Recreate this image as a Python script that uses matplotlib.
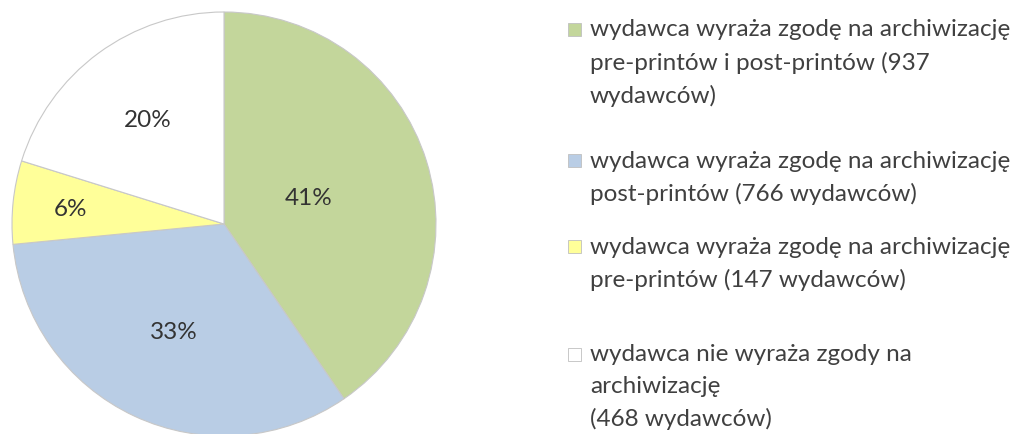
import matplotlib
matplotlib.use("Agg")
import matplotlib.pyplot as plt
from matplotlib.patches import Rectangle
import numpy as np

# data
counts = [937, 766, 147, 468]
pct_labels = ["41%", "33%", "6%", "20%"]
legend_labels = [
    "wydawca wyraża zgodę na archiwizację\npre-printów i post-printów (937\nwydawców)",
    "wydawca wyraża zgodę na archiwizację\npost-printów (766 wydawców)",
    "wydawca wyraża zgodę na archiwizację\npre-printów (147 wydawców)",
    "wydawca nie wyraża zgody na\narchiwizację\n(468 wydawców)",
]
colors = ["#C3D69B", "#B9CDE5", "#FFFF99", "#FFFFFF"]

plt.rcParams['font.family'] = ['Lato', 'DejaVu Sans']

W, H = 1019, 435
fig = plt.figure(figsize=(W / 100, H / 100), dpi=100)
fig.patch.set_facecolor("white")

# pie axes: centre (224, 225) px from top-left, radius 212 px
cx, cy, r = 224, 225, 212
ax = fig.add_axes([(cx - r) / W, (H - cy - r) / H, 2 * r / W, 2 * r / H])
wedges, _ = ax.pie(counts, colors=colors, startangle=90, counterclock=False,
                   radius=1, wedgeprops=dict(edgecolor="#C8C8C8", linewidth=0.8))
ax.set_xlim(-1, 1)
ax.set_ylim(-1, 1)
ax.set_aspect("equal")
ax.axis("off")
for w in wedges:
    w.set_clip_on(False)

# percent labels, placed like excel's "best fit"
label_dist = [0.42, 0.56, 0.73, 0.61]
for w, txt, d in zip(wedges, pct_labels, label_dist):
    mid = np.deg2rad((w.theta1 + w.theta2) / 2)
    ax.text(d * np.cos(mid), d * np.sin(mid), txt, ha="center", va="center",
            fontsize=17.5, color="#333333")

# legend drawn by hand (excel spacing is uneven)
first_line_y = [31, 162, 248, 356]
for lab, col, yc in zip(legend_labels, colors, first_line_y):
    fig.patches.append(Rectangle((568 / W, (H - yc - 6) / H), 13 / W, 13 / H,
                                 transform=fig.transFigure, facecolor=col,
                                 edgecolor="#BFBFBF", linewidth=0.6))
    fig.text(590 / W, (H - yc + 11.5) / H, lab, ha="left", va="top",
             fontsize=17.5, color="#404040", linespacing=1.62)

fig.savefig("out.png", dpi=100, facecolor="white")
